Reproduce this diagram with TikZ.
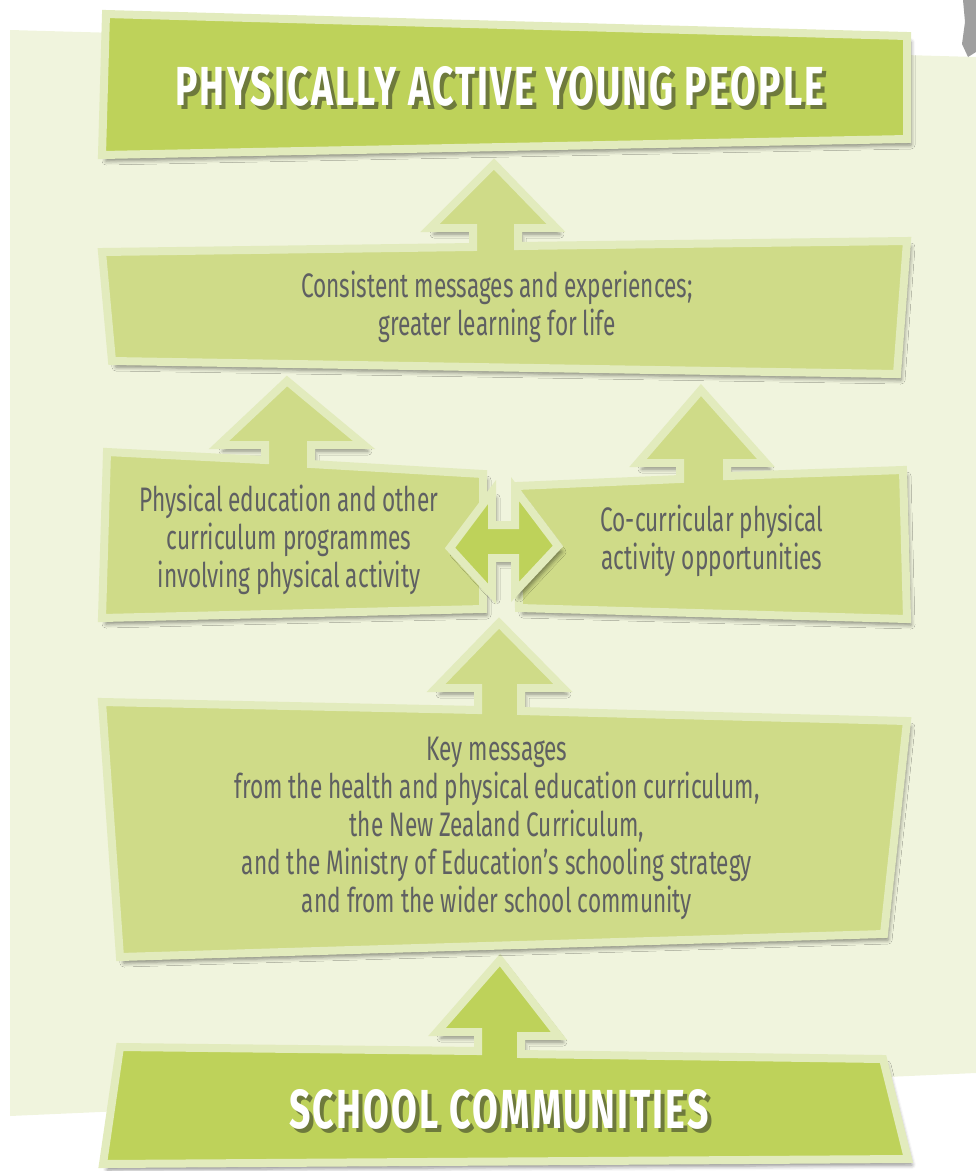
\documentclass[tikz,border=0pt]{standalone}
\usepackage{fontspec}
\usetikzlibrary{shadows.blur}

\newfontfamily\bodyfont[FakeStretch=0.665]{Fira Sans}
\newfontfamily\headfont[FakeStretch=0.68,LetterSpace=4]{Fira Sans}

\definecolor{bgpale}{HTML}{F0F4DD}
\definecolor{rimgreen}{HTML}{E2EBBD}
\definecolor{softgreen}{HTML}{CFDB88}
\definecolor{deepgreen}{HTML}{BED25A}
\definecolor{inkgrey}{HTML}{5F6062}
\definecolor{titleshade}{HTML}{6E7A3C}

% white capitals with a dark drop shade
\newcommand\shadedcaps[1]{\rlap{\kern4pt\raisebox{-4pt}{\color{titleshade}#1}}#1}

\begin{document}
\begin{tikzpicture}[
    x=1pt, y=-1pt,
    panel/.style={fill=softgreen, draw=rimgreen, line width=8pt, line join=miter,
        blur shadow={shadow xshift=4pt, shadow yshift=-6pt, shadow blur radius=4pt, shadow opacity=45}},
    keypanel/.style={panel, fill=deepgreen},
    bodytext/.style={text=inkgrey, font=\bodyfont\fontsize{34}{38}\selectfont, align=center, inner sep=0pt},
    headtext/.style={text=white, font=\headfont\bfseries\fontsize{55}{60}\selectfont, inner sep=0pt}
]
    \useasboundingbox (0,0) rectangle (976,1171);

    % pale backdrop
    \fill[bgpale] (10,30) -- (976,57) -- (976,1073) -- (10,1116) -- cycle;
    \fill[gray!75] (963,0) -- (976,0) -- (976,52) -- (968,57) -- (962,44) -- (965,22) -- cycle;

    % bottom: school communities
    \path[keypanel] (120,1047) -- (478,1051) -- (478,1032) -- (437,1032) -- (500,960)
        -- (559,1036) -- (521,1036) -- (521,1054) -- (883,1059) -- (908,1159)
        -- (103,1164) -- cycle;
    \node[headtext] (school) at (499,1111) {\shadedcaps{SCHOOL COMMUNITIES}};

    % key messages
    \path[panel] (102,702) -- (478,710) -- (478,688) -- (436,688) -- (499,623)
        -- (563,688) -- (521,688) -- (521,711) -- (907,721) -- (884,934)
        -- (120,957) -- cycle;
    \node[bodytext] (keymsg) at (497,828) {Key messages\\
        from the health and physical education curriculum,\\
        the New Zealand Curriculum,\\
        and the Ministry of Education’s schooling strategy\\
        and from the wider school community};

    % the two programme boxes
    \path[panel] (107,452) -- (265,460) -- (265,445) -- (219,445) -- (287,381)
        -- (364,445) -- (311,445) -- (311,464) -- (483,474) -- (483,609)
        -- (102,618) -- cycle;
    \node[bodytext] (curric) at (289,540) {Physical education and other\\
        curriculum programmes\\
        involving physical activity};

    \path[panel] (517,486) -- (680,479) -- (680,463) -- (638,463) -- (701,390)
        -- (766,463) -- (727,463) -- (727,476) -- (903,470) -- (907,619)
        -- (519,608) -- cycle;
    \node[bodytext] (cocurric) at (712,541) {Co-curricular physical\\
        activity opportunities};

    % two-way arrow between them
    \path[keypanel] (450,548) -- (492,492) -- (492,525) -- (515,525) -- (515,489)
        -- (558,546) -- (515,592) -- (515,558) -- (492,558) -- (492,594) -- cycle;

    % consistent messages
    \path[panel] (102,252) -- (473,247) -- (473,228) -- (430,228) -- (494,164)
        -- (556,228) -- (518,228) -- (518,246) -- (907,241) -- (897,374)
        -- (112,361) -- cycle;
    \node[bodytext] (sharedmsg) at (497,307) {Consistent messages and experiences;\\
        greater learning for life};

    % top: physically active young people
    \path[keypanel] (106,14) -- (907,36) -- (907,139) -- (102,155) -- cycle;
    \node[headtext] (title) at (500,88) {\shadedcaps{PHYSICALLY ACTIVE YOUNG PEOPLE}};
\end{tikzpicture}
\end{document}
